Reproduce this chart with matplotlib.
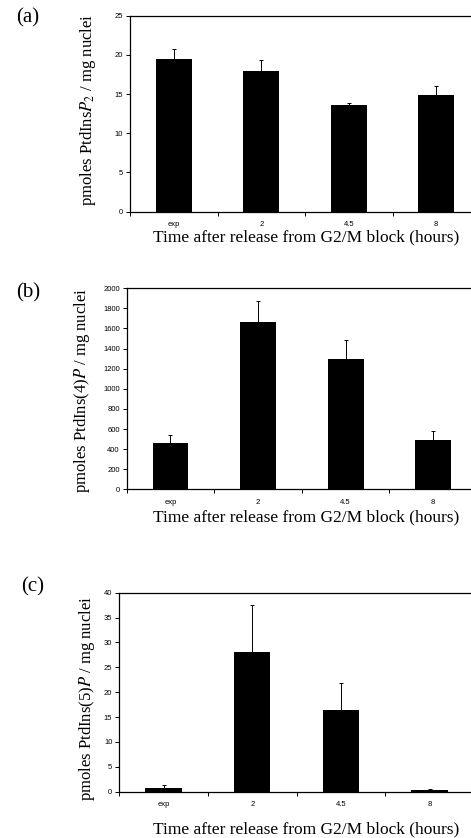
import numpy as np
from matplotlib import pyplot as plt

plt.rcParams['mathtext.fontset'] = 'stix'

times = ['exp', '2', '4.5', '8']

ptdinsp2 = [19.5, 17.9, 13.6, 14.9]
ptdinsp2_err = [1.3, 1.5, 0.3, 1.1]

ptdins4p = [460, 1665, 1300, 495]
ptdins4p_err = [85, 210, 190, 90]

ptdins5p = [0.8, 28.1, 16.5, 0.25]
ptdins5p_err = [0.5, 9.4, 5.4, 0.2]

panels = [
    ('(a)', ptdinsp2, ptdinsp2_err, r'pmoles PtdIns$P_2$ / mg nuclei', 25, 5),
    ('(b)', ptdins4p, ptdins4p_err, r'pmoles PtdIns(4)$P$ / mg nuclei', 2000, 200),
    ('(c)', ptdins5p, ptdins5p_err, r'pmoles PtdIns(5)$P$ / mg nuclei', 40, 5),
]

# axes boxes in pixels: left, top, bottom, right
boxes = [(130, 15.7, 211.7, 480), (126.7, 288.3, 489.3, 477), (119.3, 592.7, 791.7, 474)]
letter_pos = [(16, 18), (16, 293), (21, 587)]
ylab_x = [88, 82, 87]
ylab_y = [110, 391, 699]
xlab_gap = [26, 28, 38]

W, H = 471, 838
fig = plt.figure(figsize=(W / 100, H / 100), dpi=100)

for i, (letter, vals, errs, ylab, ymax, ystep) in enumerate(panels):
    l, t, b, r = boxes[i]
    ax = fig.add_axes([l / W, 1 - b / H, (r - l) / W, (b - t) / H])
    x = np.arange(len(times))
    ax.bar(x, vals, width=0.41, color='black', zorder=2)
    ax.errorbar(x, vals, yerr=[np.zeros(len(errs)), errs], fmt='none',
                ecolor='black', elinewidth=0.7, capsize=1.5, capthick=0.7, zorder=3)
    ax.set_xlim(-0.5, len(times) - 0.5)
    ax.set_ylim(0, ymax)
    ax.set_yticks(np.arange(0, ymax + ystep / 2, ystep))
    ax.set_xticks(np.arange(len(times) + 1) - 0.5)
    ax.set_xticklabels([])
    ax.set_xticks(x, minor=True)
    ax.set_xticklabels(times, minor=True)
    ax.tick_params(axis='x', which='minor', length=0, pad=7, labelsize=5.5)
    ax.tick_params(axis='x', which='major', length=3, width=0.7, direction='out')
    ax.tick_params(axis='y', length=3, width=0.7, direction='out', labelsize=5.5, pad=2)
    for lab in ax.get_yticklabels() + ax.get_xticklabels(minor=True):
        lab.set_fontfamily('Liberation Sans')
    ax.spines['right'].set_visible(False)
    for s in ['left', 'bottom', 'top']:
        ax.spines[s].set_linewidth(0.9)

    fig.text(ylab_x[i] / W, 1 - ylab_y[i] / H, ylab, rotation=90,
             ha='center', va='center', fontsize=12, family='Liberation Serif')
    fig.text(306 / W, 1 - (b + xlab_gap[i]) / H,
             'Time after release from G2/M block (hours)',
             ha='center', va='center', fontsize=12.5, family='Liberation Serif')
    fig.text(letter_pos[i][0] / W, 1 - letter_pos[i][1] / H, letter,
             ha='left', va='center', fontsize=15, family='Liberation Serif')

fig.savefig('out.png', dpi=100)
